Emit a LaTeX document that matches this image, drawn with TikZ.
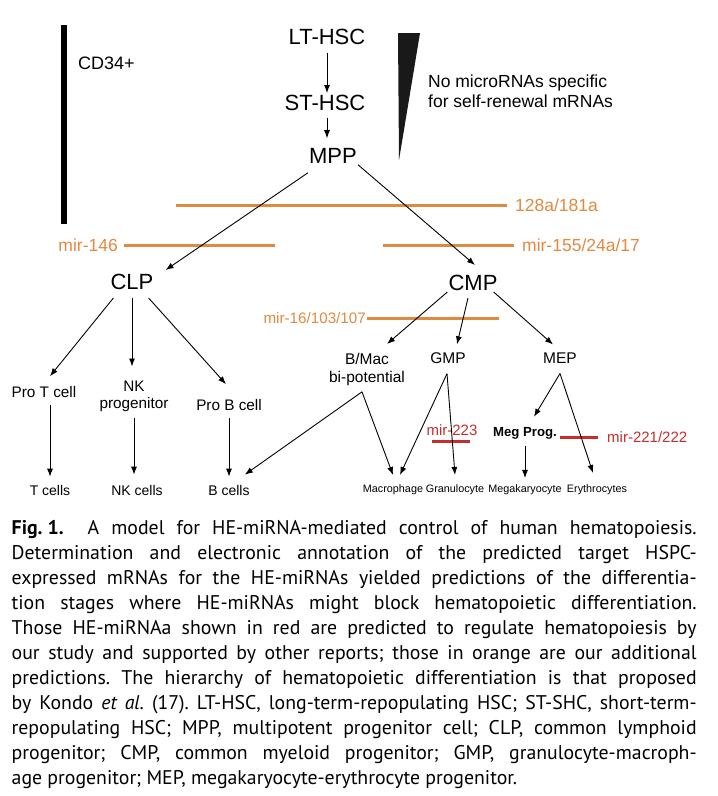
\documentclass[tikz,border=0pt]{standalone}
\usepackage{fontspec}
\setmainfont{Liberation Sans}
\newfontfamily\captionfont{PT Sans}
\usetikzlibrary{arrows.meta,calc,positioning}
\definecolor{mirorange}{RGB}{224,138,64}
\definecolor{mirred}{RGB}{200,45,45}

\begin{document}
\begin{tikzpicture}[x=1pt,y=-1pt,
    every node/.style={inner sep=1pt},
    stage/.style={font=\fontsize{22}{26}\selectfont},
    cell/.style={font=\fontsize{15.3}{17}\selectfont, align=center},
    mature/.style={font=\fontsize{14}{16}\selectfont},
    myeloid/.style={font=\fontsize{10.8}{12}\selectfont, anchor=base},
    orangelabel/.style={text=mirorange, font=\fontsize{17.5}{20}\selectfont},
    redlabel/.style={text=mirred, font=\fontsize{15}{17}\selectfont},
    block/.style={line width=3pt},
    arr/.style={-{Latex[length=8pt,width=6pt]}, line width=0.9pt},
    down/.style={arr, shorten <=6pt, shorten >=7pt}]
  \fill[white] (0,0) rectangle (718,796);
  \useasboundingbox (0,0) rectangle (718,796);

  % CD34+ bar and self-renewal wedge
  \fill (60.5,25) rectangle (66.5,224);
  \node[anchor=west, font=\fontsize{18}{20}\selectfont] (cd34) at (77,63) {CD34+};
  \fill[black!90] (398,33) -- (420,33) -- (399,160) -- cycle;
  \node[anchor=north west, align=left, inner sep=0pt, font=\fontsize{17.5}{20}\selectfont]
    (selfrenew) at (428,75) {No microRNAs specific\\for self-renewal mRNAs};

  % stages
  \node[stage] (lthsc) at (327,37) {LT-HSC};
  \node[stage] (sthsc) at (325,103) {ST-HSC};
  \node[stage] (mpp) at (333,156) {MPP};
  \node[stage] (clp) at (132,282) {CLP};
  \node[stage] (cmp) at (473,283) {CMP};

  % lymphoid side
  \node[cell] (prot) at (44,392) {Pro T cell};
  \node[cell, anchor=north] (nkprog) at (134,379.5) {NK\\progenitor};
  \node[cell] (prob) at (229,405) {Pro B cell};
  \node[mature] (tcells) at (50,490) {T cells};
  \node[mature] (nkcells) at (137,490) {NK cells};
  \node[mature] (bcells) at (229,490) {B cells};

  % myeloid side
  \node[cell, anchor=north, font=\fontsize{15.5}{18}\selectfont] (bmac) at (367,352) {B/Mac\\bi-potential};
  \node[cell, font=\fontsize{15.5}{18}\selectfont] (gmp) at (448,358) {GMP};
  \node[cell, font=\fontsize{15.5}{18}\selectfont] (mep) at (560,358) {MEP};
  \node[anchor=base, font=\bfseries\fontsize{13.2}{15}\selectfont] (megprog) at (525,436) {Meg Prog.};
  \node[myeloid] (macro) at (393,492) {Macrophage};
  \node[myeloid] (granu) at (455,492) {Granulocyte};
  \node[myeloid] (megak) at (525,492) {Megakaryocyte};
  \node[myeloid] (eryth) at (597,492) {Erythrocytes};

  % microRNA blocks
  \coordinate (m128start) at (176,205);
  \coordinate (m128end) at (507,205);
  \node[orangelabel, right=7pt of m128end] (m128) {128a/181a};
  \draw[block, mirorange] (m128start) -- (m128end);
  \coordinate (m146start) at (124,245);
  \coordinate (m146end) at (275,245);
  \node[orangelabel, left=5pt of m146start] (m146) {mir-146};
  \draw[block, mirorange] (m146start) -- (m146end);
  \coordinate (m155start) at (383,245);
  \coordinate (m155end) at (514,245);
  \node[orangelabel, right=7pt of m155end] (m155) {mir-155/24a/17};
  \draw[block, mirorange] (m155start) -- (m155end);
  \coordinate (m16start) at (367,318);
  \coordinate (m16end) at (499,318);
  \node[orangelabel, font=\fontsize{15.2}{17}\selectfont, left=0pt of m16start] (m16) {mir-16/103/107};
  \draw[block, mirorange] (m16start) -- (m16end);
  \coordinate (m223start) at (432,441);
  \coordinate (m223end) at (470,441);
  \node[redlabel] (m223) at (452,430) {mir-223};
  \draw[block, mirred] (m223start) -- (m223end);
  \coordinate (m221start) at (560,437);
  \coordinate (m221end) at (598,437);
  \node[redlabel, right=8pt of m221end] (m221) {mir-221/222};
  \draw[block, mirred] (m221start) -- (m221end);

  % lineage arrows
  \draw[arr, shorten <=7pt, shorten >=1pt] (lthsc.south) -- (lthsc.south |- sthsc.north);
  \draw[arr, shorten <=6pt, shorten >=9pt] (lthsc.south |- sthsc.south) -- (lthsc.south |- mpp.north);
  \draw[arr] ($(mpp.south west)+(0,8)$) -- ($(clp.north east)+(11,-3)$);
  \draw[arr] (mpp.south east) -- ($(cmp.north)+(2,-9)$);
  \draw[arr] ($(clp.south west)+(4,7)$) -- ($(prot.north)+(6,-9)$);
  \draw[arr, shorten <=7pt, shorten >=13pt] (clp.south) -- (clp.south |- nkprog.north);
  \draw[arr] ($(clp.south east)+(-6,7)$) -- ($(prob.north)+(-3,-14)$);
  \draw[down] (tcells.north |- prot.south) -- (tcells.north);
  \draw[down, shorten <=5pt, shorten >=9pt] (nkprog.south) -- (nkprog.south |- nkcells.north);
  \draw[down] (prob.south) -- (prob.south |- bcells.north);
  \draw[arr] (cmp.south west) -- ($(bmac.north)+(20,-8)$);
  \draw[arr] ($(cmp.south)+(-5,6)$) -- ($(gmp.north)+(9,-7)$);
  \draw[arr] ($(cmp.south east)+(-5,0)$) -- ($(mep.north)+(-7,-7)$);
  \coordinate (bmacfork) at ($(bmac.south)+(-5,5)$);
  \coordinate (gmpfork) at ($(gmp.south)+(-1,9)$);
  \coordinate (mepfork) at ($(mep.south)+(0,9)$);
  \draw[arr] (bmacfork) -- ($(bcells.north east)+(-6,-9)$);
  \draw[arr] (bmacfork) -- ($(macro.north)+(0,-8)$);
  \draw[arr] (gmpfork) -- ($(macro.north)+(7,-8)$);
  \draw[arr] (gmpfork) -- ($(granu.north)+(0,-8)$);
  \draw[arr] (mepfork) -- ($(megprog.north)+(9,-9)$);
  \draw[arr] (mepfork) -- ($(eryth.north)+(-4,-10)$);
  \draw[down, shorten >=5pt] (megak.north |- megprog.south) -- (megak.north);

  % caption
  \node[anchor=north west, inner sep=0pt, text width=685pt, align=justify,
    font=\captionfont\fontsize{19.8}{25}\selectfont] (caption) at (11.5,520)
    {\tolerance=10000 \hyphenpenalty=10000 \frenchspacing
    \mbox{\textbf{Fig.\ 1.}}\hspace{24pt}A model for HE-miRNA-mediated control of human hematopoiesis.\linebreak
    Determination and electronic annotation of the predicted target HSPC-\linebreak
    expressed mRNAs for the HE-miRNAs yielded predictions of the differentia-\linebreak
    tion stages where HE-miRNAs might block hematopoietic differentiation.\linebreak
    Those HE-miRNAa shown in red are predicted to regulate hematopoiesis by\linebreak
    our study and supported by other reports; those in orange are our additional\linebreak
    predictions. The hierarchy of hematopoietic differentiation is that proposed\linebreak
    by Kondo \textit{et al.} (17). LT-HSC, long-term-repopulating HSC; ST-SHC, short-term-\linebreak
    repopulating HSC; MPP, multipotent progenitor cell; CLP, common lymphoid\linebreak
    progenitor; CMP, common myeloid progenitor; GMP, granulocyte-macroph-\linebreak
    age progenitor; MEP, megakaryocyte-erythrocyte progenitor.};
\end{tikzpicture}
\end{document}
